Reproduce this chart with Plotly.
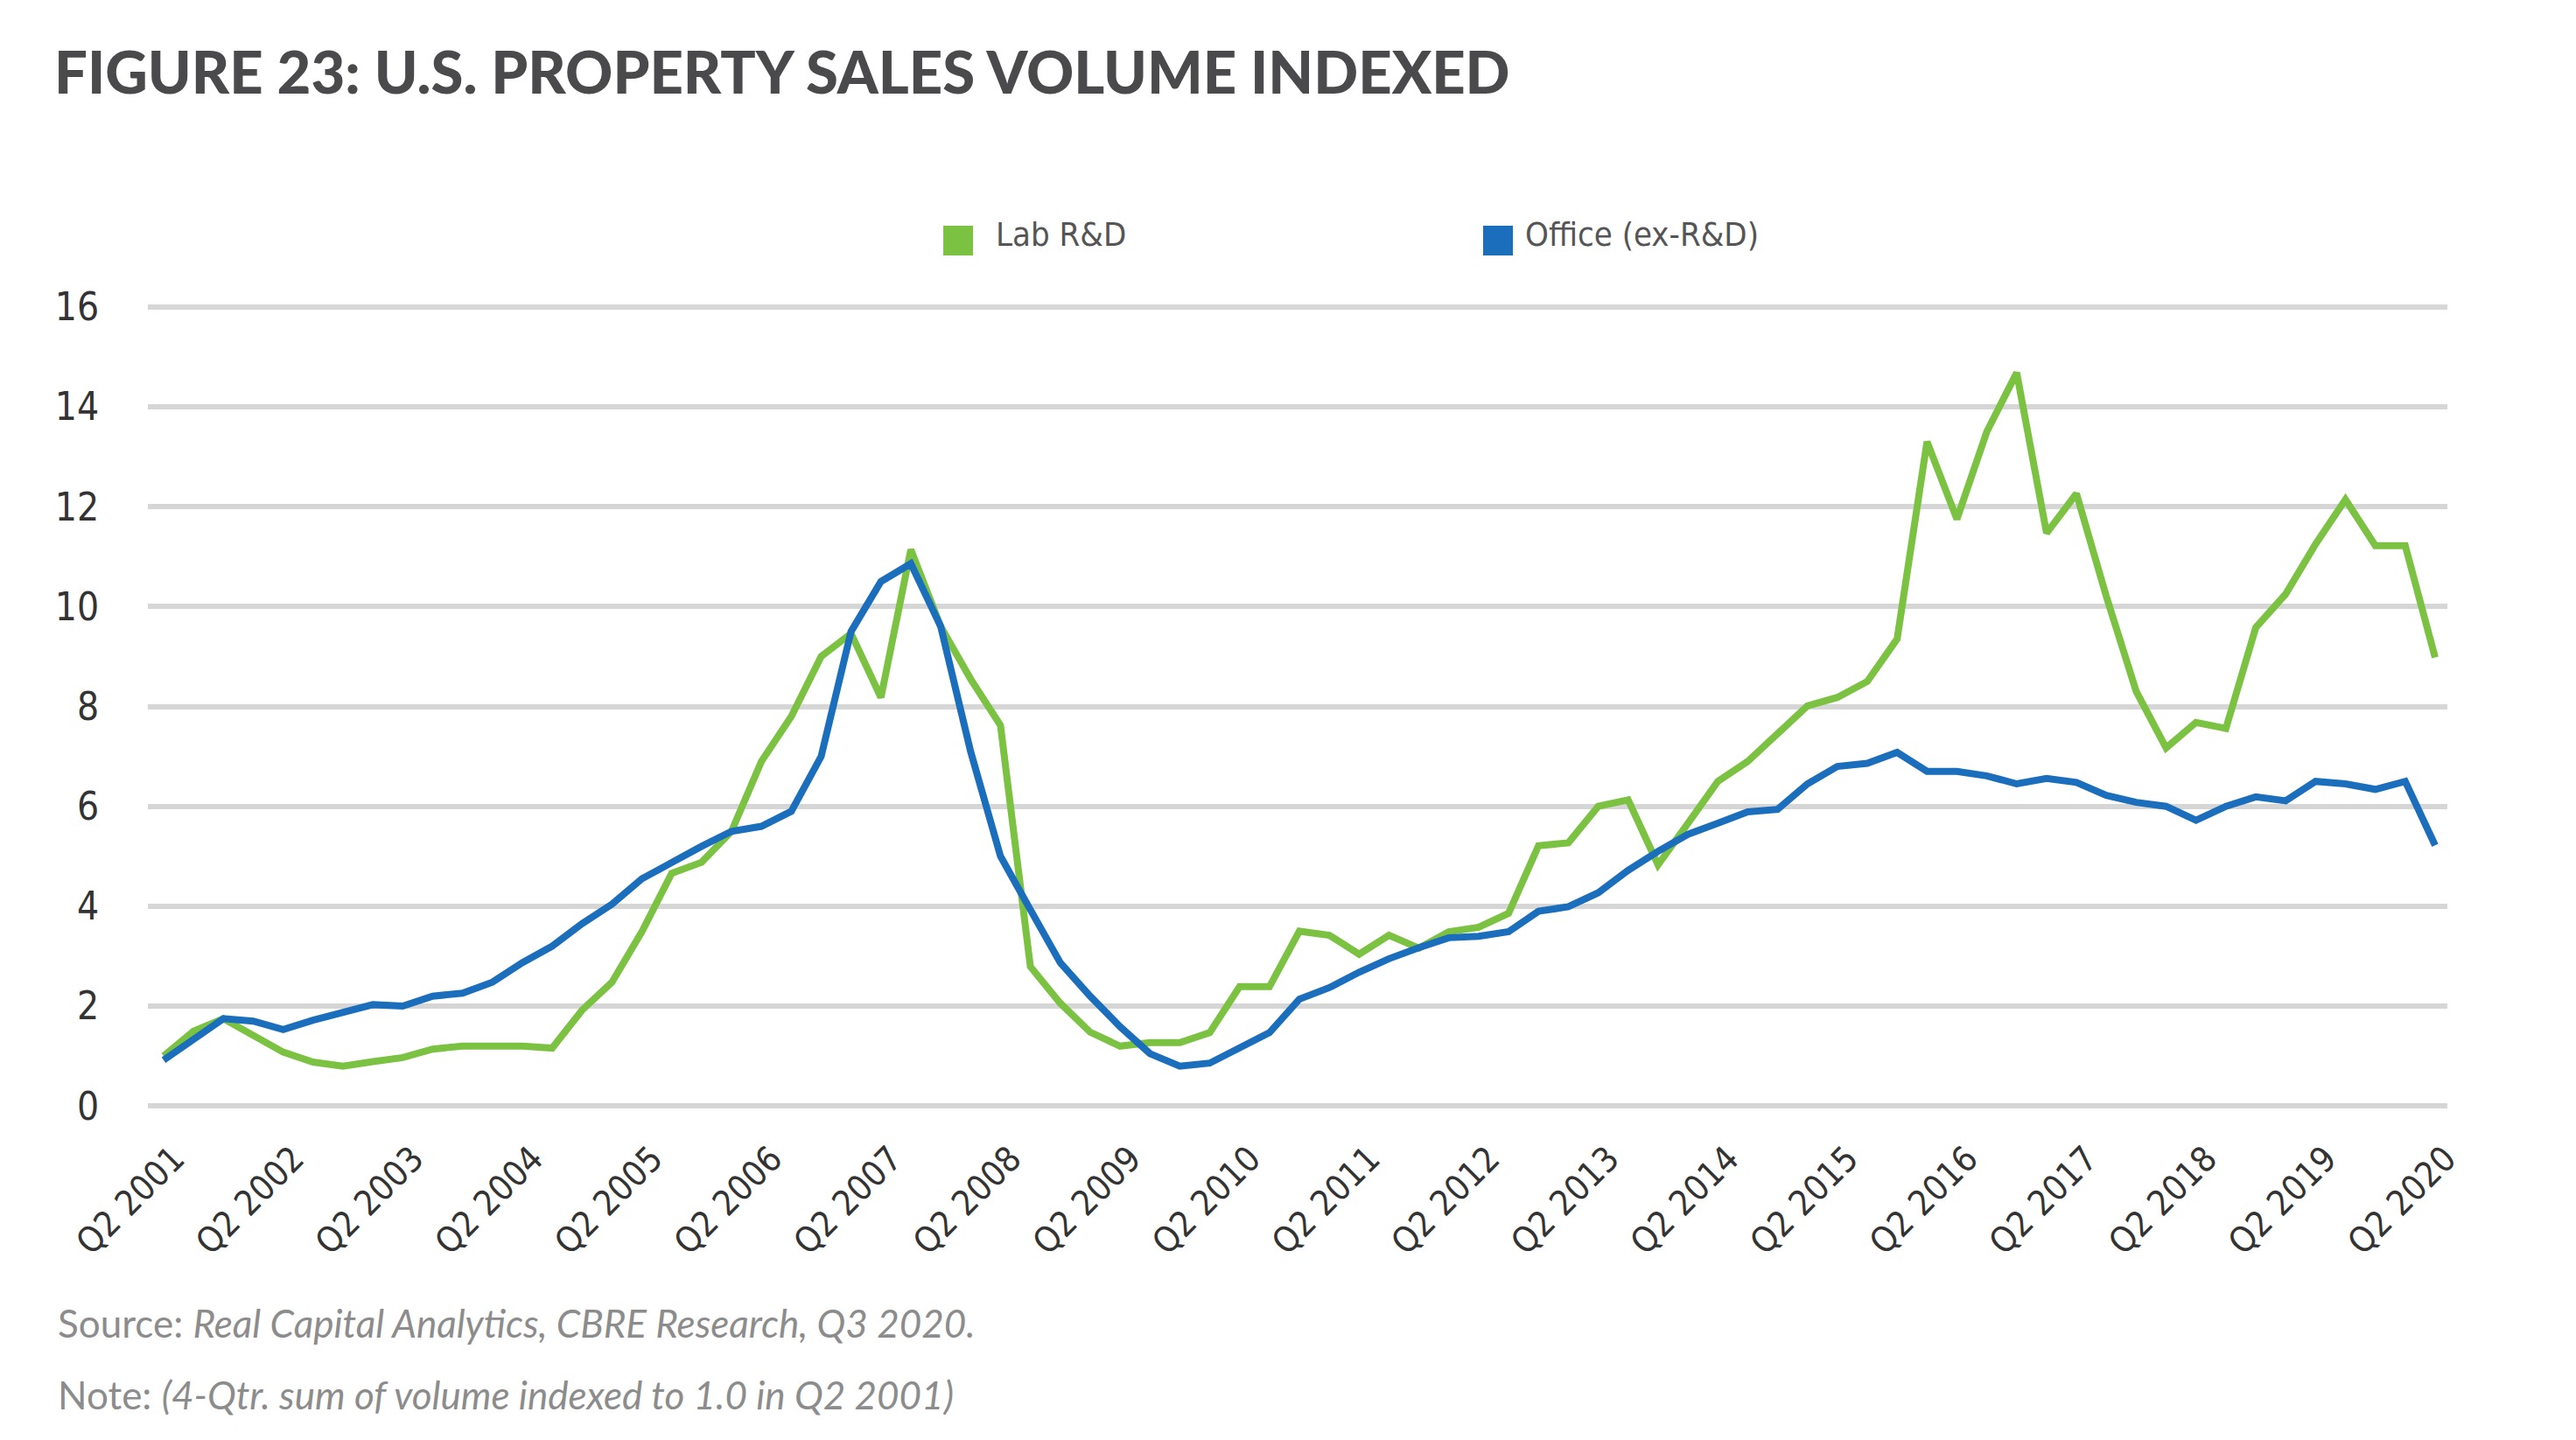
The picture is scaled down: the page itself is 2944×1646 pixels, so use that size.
import plotly.graph_objects as go

# ---------------- data ----------------
years = list(range(2001, 2021))
quarters = []
for y in range(2001, 2021):
    for q in (1, 2, 3, 4):
        if (y == 2001 and q < 2) or (y == 2020 and q > 2):
            continue
        quarters.append(f"Q{q} {y}")

tick_quarters = [f"Q2 {y}" for y in years]
tick_labels = [f"Q2 {y}" for y in years]

lab_rd = [
    1.00, 1.50, 1.75, 1.42, 1.08, 0.88, 0.80, 0.89, 0.97, 1.14,
    1.20, 1.20, 1.20, 1.16, 1.92, 2.48, 3.49, 4.66, 4.88, 5.50,
    6.90, 7.80, 9.00, 9.46, 8.18, 11.14, 9.60, 8.55, 7.62, 2.79,
    2.06, 1.48, 1.20, 1.27, 1.27, 1.47, 2.39, 2.39, 3.50, 3.42,
    3.04, 3.42, 3.16, 3.49, 3.58, 3.86, 5.21, 5.27, 6.00, 6.13,
    4.83, 5.66, 6.50, 6.90, 7.45, 8.01, 8.18, 8.50, 9.35, 13.30,
    11.75, 13.50, 14.68, 11.47, 12.26, 10.20, 8.30, 7.17, 7.68, 7.56,
    9.58, 10.25, 11.25, 12.14, 11.22, 11.22, 8.98,
]

office = [
    0.92, 1.34, 1.75, 1.70, 1.53, 1.72, 1.87, 2.03, 2.00, 2.20,
    2.26, 2.48, 2.87, 3.20, 3.65, 4.04, 4.55, 4.88, 5.20, 5.50,
    5.60, 5.90, 7.00, 9.50, 10.50, 10.86, 9.60, 7.10, 5.00, 3.93,
    2.87, 2.20, 1.59, 1.05, 0.80, 0.86, 1.16, 1.47, 2.14, 2.37,
    2.68, 2.95, 3.17, 3.37, 3.40, 3.49, 3.90, 3.99, 4.27, 4.72,
    5.10, 5.44, 5.66, 5.89, 5.94, 6.45, 6.80, 6.86, 7.08, 6.70,
    6.70, 6.61, 6.45, 6.56, 6.48, 6.22, 6.08, 6.00, 5.72, 6.00,
    6.19, 6.11, 6.50, 6.45, 6.34, 6.50, 5.22,
]

series_names = ["Lab R&D", "Office (ex-R&D)"]
series_colors = ["#7cc242", "#1b6ebc"]
y_ticks = [0, 2, 4, 6, 8, 10, 12, 14, 16]

# ---------------- layout geometry ----------------
W, H = 2944, 1646
L, R, T, B = 169, 147, 345, 376
PW, PH = W - L - R, H - T - B


def px(x):
    return (x - L) / PW


def py(y):
    return (H - B - y) / PH


fig = go.Figure()
for name, vals, col in zip(series_names, [lab_rd, office], series_colors):
    fig.add_trace(go.Scatter(
        x=quarters, y=vals, mode="lines", name=name,
        line=dict(color=col, width=8), showlegend=False,
    ))

narrow = "Liberation Sans Narrow, DejaVu Sans Condensed, Roboto, sans-serif"
tick_font = dict(family=narrow, size=40, color="#333333")

fig.update_layout(
    width=W, height=H,
    margin=dict(l=L, r=R, t=T, b=B),
    paper_bgcolor="white", plot_bgcolor="white",
    showlegend=False,
    title=dict(
        text="FIGURE 23: U.S. PROPERTY SALES VOLUME INDEXED",
        font=dict(family="Lato, Inter, sans-serif", size=67, color="#4a4a4c", weight=900),
        xref="container", yref="container",
        x=62 / W, xanchor="left", y=1 - 84 / H, yanchor="middle",
    ),
    xaxis=dict(
        type="category",
        categoryorder="array", categoryarray=quarters,
        range=[-0.527, 76.41],
        tickmode="array", tickvals=tick_quarters, ticktext=tick_labels,
        tickangle=-45, tickfont=tick_font,
        ticks="outside", ticklen=14, tickcolor="rgba(0,0,0,0)",
        ticklabelshift=12,
        showgrid=False, zeroline=False, showline=False,
    ),
    yaxis=dict(
        range=[-0.1, 16.1],
        tickmode="array", tickvals=y_ticks,
        tickfont=dict(tick_font, size=44),
        ticks="outside", ticklen=46, tickcolor="rgba(0,0,0,0)",
        showgrid=True, gridcolor="#d6d6d6", gridwidth=6,
        zeroline=False, showline=False,
    ),
)

# legend drawn manually (square swatches + labels)
legend_items = [
    (series_names[0], series_colors[0], 1078, 1136),
    (series_names[1], series_colors[1], 1695, 1741),
]
for name, col, sx, tx in legend_items:
    fig.add_shape(type="rect", xref="paper", yref="paper",
                  x0=px(sx), x1=px(sx + 34), y0=py(292), y1=py(258),
                  fillcolor=col, line=dict(width=0))
    fig.add_annotation(text=name, xref="paper", yref="paper",
                       x=px(tx), y=py(268), xanchor="left", yanchor="middle",
                       showarrow=False,
                       font=dict(family=narrow, size=38, color="#555555"))

note_font = dict(family="Lato, Open Sans, sans-serif", size=44, color="#8c8c8c")
fig.add_annotation(text="Source: <i>Real Capital Analytics, CBRE Research, Q3 2020.</i>",
                   xref="paper", yref="paper", x=px(64), y=py(1512),
                   xanchor="left", yanchor="middle", showarrow=False, font=note_font)
fig.add_annotation(text="Note: <i>(4-Qtr. sum of volume indexed to 1.0 in Q2 2001)</i>",
                   xref="paper", yref="paper", x=px(64), y=py(1594),
                   xanchor="left", yanchor="middle", showarrow=False, font=note_font)

fig.write_html("out.html", config={"displayModeBar": False},
               post_script="document.body.style.margin='0';")
